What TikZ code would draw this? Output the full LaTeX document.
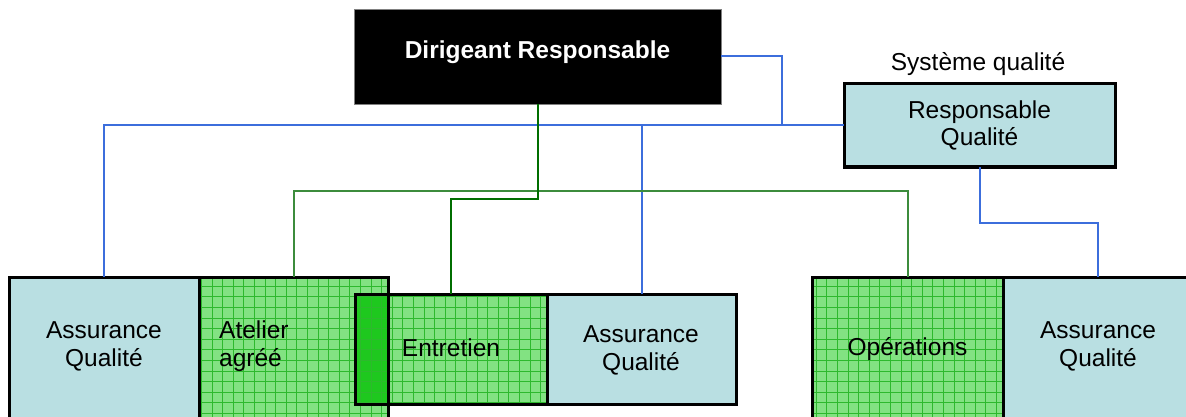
\documentclass[tikz,border=0pt]{standalone}
\usepackage{fontspec}
\setmainfont{Liberation Sans}
\definecolor{aqblue}{RGB}{185,223,226}
\definecolor{gfill}{RGB}{130,226,130}
\definecolor{gline}{RGB}{45,185,45}
\definecolor{gdark}{RGB}{30,200,30}
\definecolor{cblue}{RGB}{60,110,220}
\definecolor{cgreen}{RGB}{60,140,60}
\definecolor{cdgreen}{RGB}{0,110,0}
\begin{document}
\begin{tikzpicture}[x=1pt,y=-1pt,
  font=\fontsize{24.5}{28}\selectfont,
  boxfill/.style={inner sep=0pt,outer sep=0pt,anchor=north west},
  border/.style={draw=black,line width=3pt},
  gridline/.style={draw=gline,line width=0.8pt},
  bconn/.style={draw=cblue,line width=2pt},
  gconn/.style={draw=cgreen,line width=2pt},
  dgconn/.style={draw=cdgreen,line width=2pt},
  lbl/.style={align=center,inner sep=0pt}]
\useasboundingbox (0,0) rectangle (1186,417);
\clip (0,0) rectangle (1186,417);
% fills
\node[boxfill,fill=aqblue,minimum width=190pt,minimum height=170pt] (aq1) at (9,277) {};
\node[boxfill,fill=gfill,minimum width=189pt,minimum height=170pt] (atel) at (199,277) {};
\node[boxfill,fill=gfill,minimum width=192pt,minimum height=110pt] (ent) at (355,294) {};
\node[boxfill,fill=aqblue,minimum width=189pt,minimum height=110pt] (aq2) at (547,294) {};
\node[boxfill,fill=gfill,minimum width=191pt,minimum height=170pt] (ops) at (812,277) {};
\node[boxfill,fill=aqblue,minimum width=190pt,minimum height=170pt] (aq3) at (1003,277) {};
\node[boxfill,fill=aqblue,draw=black,line width=3pt,minimum width=271pt,minimum height=83pt,align=center,anchor=north west] (rq) at (844,84) {Responsable\\[-1pt]Qualité};
\node[boxfill,fill=black,draw=gray,line width=0.8pt,minimum width=367pt,minimum height=95pt] (dr) at (354,9) {};
% overlap
\fill[gdark] (ent.north west) rectangle (atel.east |- ent.south);
% grids
\foreach \n in {atel,ent,ops}{
  \begin{scope}
    \clip (\n.north west) rectangle (\n.south east);
    \draw[gridline,step=10.6pt] (\n.north west) grid (\n.south east);
  \end{scope}
}
% borders
\foreach \n in {aq1,atel,ent,aq2,ops,aq3}{
  \draw[border] (\n.north west) rectangle (\n.south east);
}
% connectors
\coordinate (bj) at (782,126);
\draw[bconn] (aq1.north) |- (rq.west);
\draw[bconn] (aq2.north) -- (aq2.north |- rq.west);
\draw[bconn] (dr.east) -| (bj);
\draw[bconn] (rq.south) -- ++(0,56) -| (aq3.north);
\draw[gconn] (atel.north) -- (atel.north |- 0,191) -| (ops.north);
\draw[dgconn] (dr.south) -- (dr.south |- 0,199) -| (ent.north);
% texts
\node[lbl,text=white,font=\fontsize{24.5}{28}\selectfont\bfseries] (drt) at (537.5,52) {Dirigeant Responsable};
\node[lbl] (sq) at (978,64) {Système qualité};
\node[lbl] (aq1t) at (104,346) {Assurance\\Qualité};
\node[lbl,anchor=west,align=left] (atelt) at (219,346) {Atelier\\agréé};
\node[lbl] (entt) at (451,348) {Entretien};
\node[lbl] (aq2t) at (641,350) {Assurance\\Qualité};
\node[lbl] (opst) at (907.5,349) {Opérations};
\node[lbl] (aq3t) at (1098,346) {Assurance\\Qualité};
\end{tikzpicture}
\end{document}
